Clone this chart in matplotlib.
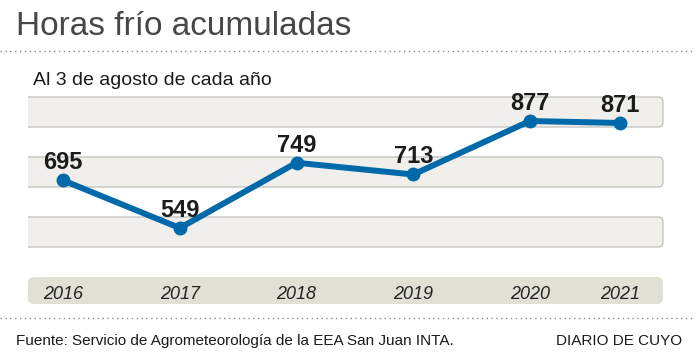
import matplotlib.pyplot as plt
from matplotlib.patches import FancyBboxPatch
from matplotlib.lines import Line2D

# datos
anios = ["2016", "2017", "2018", "2019", "2020", "2021"]
horas = [695, 549, 749, 713, 877, 871]
# posicion horizontal de cada año (2021 queda mas cerca de 2020 en el original)
x_pos = [0, 1, 2, 3, 4, 4.77]

W, H = 697, 357
plt.rcParams['font.family'] = ['Liberation Sans', 'DejaVu Sans']

fig = plt.figure(figsize=(W / 100, H / 100), dpi=100)
fig.patch.set_facecolor('white')

def fx(px):
    return px / W

def fy(py):
    return 1 - py / H

# ejes del grafico: x 28..697 px, y 85..260 px
ax_x0, ax_x1, ax_top, ax_bot = 28, 697, 85, 260
ax = fig.add_axes([fx(ax_x0), fy(ax_bot), (ax_x1 - ax_x0) / W, (ax_bot - ax_top) / H])
ax.set_axis_off()

# escala: 549 -> 228 px, 877 -> 121 px ; 2016 -> 63 px, paso 116.75 px
k = (228 - 121) / (877 - 549)
ax.set_ylim(549 - (ax_bot - 228) / k, 549 + (228 - ax_top) / k)
paso = 116.75
ax.set_xlim((ax_x0 - 63) / paso, (ax_x1 - 63) / paso)

# bandas grises
asp = W / H
for top in [97, 157, 217]:
    p = FancyBboxPatch((fx(10), fy(top + 30)), fx(663) - fx(10), 30 / H,
                       boxstyle="round,pad=0,rounding_size=%f" % (5 / W),
                       mutation_aspect=asp, transform=fig.transFigure,
                       facecolor='#f0efeb', edgecolor='#c4c4c2', linewidth=1.0, zorder=0.5)
    ax.add_patch(p)

ax.plot(x_pos, horas, color='#0069a9', linewidth=4.3, marker='o', markersize=9,
        solid_joinstyle='round', solid_capstyle='round', zorder=3)

for x, v in zip(x_pos, horas):
    ax.annotate(str(v), (x, v), xytext=(0, 8), textcoords='offset points',
                ha='center', va='baseline', fontsize=17, fontweight='bold',
                color='#1c1c1c', zorder=4)

# banda de años
ax2 = fig.add_axes([fx(28), fy(304), (663 - 28) / W, 27 / H])
ax2.set_axis_off()
ax2.set_xlim((28 - 63) / paso, (663 - 63) / paso)
ax2.set_ylim(0, 1)
ax2.add_patch(FancyBboxPatch((0, 0), 1, 1, boxstyle="round,pad=0,rounding_size=%f" % (6 / 635),
                             mutation_aspect=635 / 27, transform=ax2.transAxes,
                             facecolor='#e1e0d5', edgecolor='none', clip_on=False))
for x, a in zip(x_pos, anios):
    ax2.text(x, (304 - 299) / 27, a, ha='center', va='baseline', fontsize=13,
             fontstyle='italic', color='#222222')

# textos
fig.text(fx(16), fy(35), "Horas frío acumuladas", fontsize=24, color='#474747',
         ha='left', va='baseline')
fig.text(fx(33), fy(85), "Al 3 de agosto de cada año", fontsize=14, color='#1a1a1a',
         ha='left', va='baseline')
fig.text(fx(16), fy(345), "Fuente: Servicio de Agrometeorología de la EEA San Juan INTA.",
         fontsize=11, color='#1a1a1a', ha='left', va='baseline')
fig.text(fx(682), fy(345), "DIARIO DE CUYO", fontsize=11, color='#1a1a1a',
         ha='right', va='baseline')

# lineas punteadas
for yy in [51, 318]:
    fig.add_artist(Line2D([0, fx(693)], [fy(yy), fy(yy)], transform=fig.transFigure,
                          color='#8a8a8a', linewidth=1.0, linestyle=(0, (1, 2.5))))

fig.savefig('out.png', dpi=100)
